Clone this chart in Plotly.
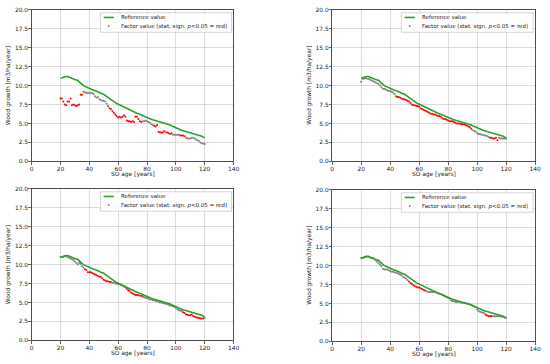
import plotly.graph_objects as go

ages = list(range(20, 121))

reference = [
    11.0, 11.0, 11.1, 11.2, 11.2, 11.2, 11.1, 11.0, 11.0, 10.9,
    10.8, 10.75, 10.7, 10.5, 10.3, 10.1, 10.0, 9.9, 9.8, 9.7,
    9.6, 9.5, 9.45, 9.4, 9.35, 9.3, 9.2, 9.1, 9.0, 8.95,
    8.85, 8.7, 8.55, 8.4, 8.25, 8.1, 7.95, 7.85, 7.75, 7.65,
    7.55, 7.45, 7.35, 7.25, 7.15, 7.05, 6.95, 6.85, 6.75, 6.65,
    6.6, 6.5, 6.45, 6.35, 6.3, 6.25, 6.15, 6.05, 5.95, 5.85,
    5.75, 5.65, 5.6, 5.55, 5.5, 5.45, 5.4, 5.35, 5.3, 5.25,
    5.15, 5.1, 5.05, 5.0, 4.95, 4.9, 4.8, 4.7, 4.6, 4.5,
    4.4, 4.3, 4.2, 4.15, 4.1, 4.05, 4.0, 3.95, 3.9, 3.85,
    3.8, 3.75, 3.7, 3.6, 3.55, 3.5, 3.4, 3.35, 3.3, 3.2,
    3.1,
]

# panel 1 (top-left)
factor_tl = [
    8.3, 8.3, 7.9, 7.5, 7.4, 7.9, 7.9, 8.3, 7.4, 7.5,
    7.4, 7.3, 7.4, 7.5, 8.8, 8.8, 9.2, 9.1, 9.1, 9.0,
    9.1, 9.0, 9.0, 8.9, 8.6, 8.4, 8.5, 8.2, 8.1, 8.0,
    8.0, 7.9, 7.6, 7.3, 7.0, 6.9, 6.6, 6.4, 6.2, 6.0,
    5.8, 5.9, 5.8, 5.9, 6.1, 5.9, 5.4, 5.3, 5.3, 5.2,
    5.3, 5.2, 5.9, 5.9, 5.6, 5.3, 5.2, 5.3, 5.3, 5.4,
    5.3, 5.2, 5.1, 4.9, 4.8, 4.7, 4.6, 4.8, 3.9, 3.8,
    3.8, 3.8, 4.0, 3.8, 3.8, 3.7, 3.6, 3.7, 3.5, 3.5,
    3.5, 3.5, 3.5, 3.4, 3.4, 3.4, 3.3, 3.1, 3.0, 3.0,
    3.0, 3.1, 3.1, 3.0, 2.9, 2.8, 2.7, 2.5, 2.4, 2.35,
    2.3,
]
sig_tl = [
    1, 1, 1, 1, 1, 1, 1, 1, 1, 1,
    1, 1, 1, 1, 1, 1, 0, 0, 0, 0,
    0, 0, 0, 0, 0, 0, 0, 0, 0, 0,
    0, 0, 0, 1, 1, 1, 1, 1, 1, 1,
    1, 1, 1, 1, 1, 1, 1, 1, 1, 1,
    1, 1, 1, 1, 1, 1, 1, 0, 0, 0,
    0, 0, 0, 0, 0, 1, 1, 1, 1, 1,
    1, 1, 1, 0, 1, 1, 1, 1, 0, 0,
    0, 0, 0, 1, 1, 1, 1, 0, 0, 0,
    0, 0, 0, 0, 0, 0, 0, 0, 0, 0,
    0,
]

# panel 2 (top-right)
factor_tr = [
    10.5, 10.9, 10.9, 11.0, 10.9, 10.9, 10.8, 10.7, 10.6, 10.5,
    10.4, 10.3, 10.2, 10.0, 9.8, 9.6, 9.6, 9.5, 9.4, 9.3,
    9.3, 9.2, 9.1, 8.9, 8.6, 8.5, 8.5, 8.4, 8.3, 8.2,
    8.2, 8.1, 8.0, 7.9, 7.7, 7.5, 7.4, 7.4, 7.3, 7.3,
    7.2, 7.0, 6.9, 6.8, 6.7, 6.6, 6.5, 6.4, 6.3, 6.3,
    6.2, 6.2, 6.1, 6.0, 6.0, 5.9, 5.7, 5.6, 5.6, 5.5,
    5.4, 5.3, 5.3, 5.3, 5.2, 5.1, 5.0, 5.0, 5.0, 4.9,
    4.9, 4.9, 4.8, 4.7, 4.6, 4.5, 4.3, 4.1, 4.0, 3.9,
    3.7, 3.6, 3.6, 3.5, 3.5, 3.4, 3.4, 3.3, 3.2, 3.1,
    3.1, 3.0, 3.0, 3.1, 2.8, 3.1, 3.0, 3.0, 3.0, 3.0,
    3.0,
]
sig_tr = [
    0, 0, 0, 0, 0, 0, 0, 0, 0, 0,
    0, 0, 0, 0, 0, 0, 0, 0, 0, 0,
    0, 0, 0, 0, 1, 1, 1, 1, 1, 1,
    1, 1, 1, 1, 1, 1, 1, 1, 1, 1,
    1, 1, 1, 1, 1, 1, 1, 1, 1, 1,
    1, 1, 1, 1, 1, 1, 1, 1, 1, 1,
    1, 1, 1, 1, 1, 1, 1, 1, 1, 1,
    1, 1, 1, 1, 1, 1, 1, 0, 0, 0,
    0, 0, 0, 0, 0, 0, 0, 0, 0, 1,
    1, 1, 1, 1, 1, 0, 0, 0, 0, 0,
    0,
]

# panel 3 (bottom-left)
factor_bl = [
    11.0, 11.0, 11.0, 11.1, 11.1, 11.0, 10.9, 10.8, 10.7, 10.6,
    10.4, 10.2, 10.0, 10.2, 10.1, 9.8, 9.6, 9.4, 9.3, 9.0,
    9.0, 9.0, 8.9, 8.8, 8.7, 8.6, 8.5, 8.4, 8.4, 8.2,
    8.0, 7.9, 7.8, 7.8, 7.7, 7.7, 7.6, 7.6, 7.5, 7.5,
    7.4, 7.4, 7.3, 7.2, 7.1, 7.0, 6.8, 6.6, 6.5, 6.3,
    6.2, 6.1, 6.0, 6.0, 6.0, 5.9, 5.9, 5.8, 5.7, 5.6,
    5.6, 5.5, 5.4, 5.4, 5.3, 5.3, 5.2, 5.2, 5.1, 5.0,
    5.0, 4.9, 4.9, 4.8, 4.8, 4.7, 4.6, 4.6, 4.5, 4.4,
    4.3, 4.1, 4.0, 3.9, 3.9, 3.7, 3.6, 3.4, 3.4, 3.3,
    3.3, 3.4, 3.2, 3.1, 3.0, 3.0, 2.95, 2.9, 2.9, 2.9,
    2.95,
]
sig_bl = [
    0, 0, 0, 0, 0, 0, 0, 0, 0, 0,
    0, 0, 0, 0, 0, 0, 0, 1, 1, 1,
    1, 1, 1, 1, 1, 1, 1, 1, 1, 1,
    1, 1, 1, 1, 1, 1, 0, 0, 0, 0,
    0, 0, 0, 0, 0, 0, 1, 1, 1, 1,
    1, 1, 1, 1, 1, 1, 1, 1, 0, 0,
    0, 0, 0, 0, 0, 0, 0, 0, 0, 0,
    0, 0, 0, 0, 0, 0, 0, 0, 0, 0,
    0, 0, 0, 0, 0, 1, 1, 1, 1, 1,
    1, 1, 1, 1, 1, 1, 1, 1, 1, 1,
    0,
]

# panel 4 (bottom-right)
factor_br = [
    11.0, 11.0, 11.1, 11.2, 11.2, 11.2, 11.1, 11.0, 11.0, 10.9,
    10.7, 10.5, 10.3, 10.1, 9.9, 9.6, 9.5, 9.5, 9.5, 9.4,
    9.3, 9.2, 9.2, 9.1, 9.1, 9.0, 8.9, 8.8, 8.7, 8.5,
    8.4, 8.3, 8.1, 7.9, 7.7, 7.6, 7.4, 7.3, 7.2, 7.1,
    7.1, 7.0, 6.9, 6.8, 6.7, 6.6, 6.5, 6.5, 6.5, 6.5,
    6.5, 6.5, 6.45, 6.35, 6.3, 6.25, 6.15, 6.05, 5.95, 5.85,
    5.75, 5.65, 5.4, 5.3, 5.3, 5.2, 5.2, 5.2, 5.2, 5.1,
    5.1, 5.1, 5.05, 5.0, 4.95, 4.9, 4.8, 4.7, 4.6, 4.5,
    4.2, 4.0, 3.9, 3.8, 3.8, 3.7, 3.5, 3.4, 3.3, 3.35,
    3.3, 3.3, 3.3, 3.3, 3.3, 3.3, 3.3, 3.25, 3.2, 3.15,
    3.1,
]
sig_br = [
    0, 0, 0, 0, 0, 0, 0, 0, 0, 0,
    0, 0, 0, 0, 0, 0, 0, 0, 0, 0,
    0, 0, 0, 0, 0, 0, 0, 0, 0, 0,
    0, 0, 0, 1, 1, 1, 1, 1, 1, 1,
    1, 1, 1, 1, 1, 0, 0, 0, 0, 0,
    0, 0, 0, 0, 0, 0, 0, 0, 0, 0,
    0, 0, 0, 0, 0, 0, 0, 0, 0, 0,
    0, 0, 0, 0, 0, 0, 0, 0, 0, 0,
    0, 0, 0, 0, 0, 0, 1, 1, 1, 1,
    1, 0, 0, 0, 0, 0, 0, 0, 0, 0,
    0,
]

x_ticks = [0, 20, 40, 60, 80, 100, 120, 140]
y_ticks = [0.0, 2.5, 5.0, 7.5, 10.0, 12.5, 15.0, 17.5, 20.0]
legend_labels = ["Reference value", "Factor value (stat. sign. <i>p</i><0.05 = red)"]
x_title = "SO age [years]"
y_title = "Wood growth [m3/ha/year]"

W, H = 550, 364
# panel pixel boxes (left, right, top, bottom)
panels = [
    (30, 235, 7, 161, factor_tl, sig_tl),
    (335, 541, 7, 161, factor_tr, sig_tr),
    (30, 235, 189, 343, factor_bl, sig_bl),
    (335, 541, 190, 344, factor_br, sig_br),
]

GREEN = "#2ca02c"
RED = "#ff0000"
GREY = "#808080"
TXT = "#222222"
FONT = "DejaVu Sans"
FS = 5.9
LFS = 5.5

fig = go.Figure()
layout = dict(
    width=W, height=H, autosize=False,
    margin=dict(l=0, r=0, t=0, b=0),
    paper_bgcolor="white", plot_bgcolor="white",
    font=dict(family=FONT, size=FS, color=TXT),
    showlegend=False,
)
shapes = []
annotations = []

for i, (l, r, t, b, fac, sig) in enumerate(panels):
    n = i + 1
    xa = "x" if n == 1 else f"x{n}"
    ya = "y" if n == 1 else f"y{n}"
    colors = [RED if s else GREY for s in sig]
    fig.add_trace(go.Scatter(
        x=ages, y=fac, mode="markers", xaxis=xa, yaxis=ya,
        marker=dict(size=2.0, color=colors, line=dict(width=0)),
        hoverinfo="skip",
    ))
    fig.add_trace(go.Scatter(
        x=ages, y=reference, mode="lines", xaxis=xa, yaxis=ya,
        line=dict(color=GREEN, width=1.6),
        name="Reference value",
    ))
    xkey = "xaxis" if n == 1 else f"xaxis{n}"
    ykey = "yaxis" if n == 1 else f"yaxis{n}"
    common = dict(
        showgrid=True, gridcolor="#d4d4d4", gridwidth=0.8,
        showline=True, linecolor=TXT, linewidth=0.8, mirror=True,
        ticks="outside", ticklen=2.5, tickwidth=0.7, tickcolor=TXT,
        zeroline=False, tickfont=dict(family=FONT, size=FS, color=TXT),
        fixedrange=True,
    )
    layout[xkey] = dict(
        common, domain=[l / W, r / W], range=[0, 140], tickvals=x_ticks,
        anchor=ya, ticklabelstandoff=-1,
    )
    layout[ykey] = dict(
        common, domain=[1 - b / H, 1 - t / H], range=[0, 20], tickvals=y_ticks,
        tickformat=".1f", anchor=xa, ticklabelstandoff=-1,
    )

    xd = f"{xa} domain"
    yd = f"{ya} domain"
    # axis titles
    annotations.append(dict(text=x_title, xref=xd, yref=yd, x=0.5, y=0,
                            xanchor="center", yanchor="middle", yshift=-13,
                            showarrow=False, font=dict(family=FONT, size=FS, color=TXT)))
    annotations.append(dict(text=y_title, xref=xd, yref=yd, x=0, y=0.5,
                            xanchor="center", yanchor="middle", xshift=-23,
                            textangle=-90, showarrow=False,
                            font=dict(family=FONT, size=FS, color=TXT)))

    # legend box drawn in axis-domain coordinates
    shapes.append(dict(type="rect", xref=xd, yref=yd, x0=0.341, x1=0.990,
                       y0=0.852, y1=0.981, fillcolor="rgba(255,255,255,0.85)",
                       line=dict(color="#cccccc", width=0.8), layer="above"))
    shapes.append(dict(type="line", xref=xd, yref=yd, x0=0.357, x1=0.407,
                       y0=0.950, y1=0.950, line=dict(color=GREEN, width=1.6),
                       layer="above"))
    shapes.append(dict(type="circle", xref=xd, yref=yd, xsizemode="pixel",
                       ysizemode="pixel", xanchor=0.382, yanchor=0.893,
                       x0=-0.9, x1=0.9, y0=-0.9, y1=0.9,
                       fillcolor="#666666", line=dict(width=0), layer="above"))
    annotations.append(dict(text=legend_labels[0], xref=xd, yref=yd, x=0.432,
                            y=0.950, xanchor="left", yanchor="middle",
                            showarrow=False, font=dict(family=FONT, size=LFS, color=TXT)))
    annotations.append(dict(text=legend_labels[1], xref=xd, yref=yd, x=0.432,
                            y=0.893, xanchor="left", yanchor="middle",
                            showarrow=False, font=dict(family=FONT, size=LFS, color=TXT)))

layout["shapes"] = shapes
layout["annotations"] = annotations
fig.update_layout(**layout)
fig.write_html(
    "out.html",
    config={"displayModeBar": False, "staticPlot": True},
    post_script="document.body.style.margin='0';document.body.style.padding='0';"
                "document.documentElement.style.overflow='hidden';",
)
